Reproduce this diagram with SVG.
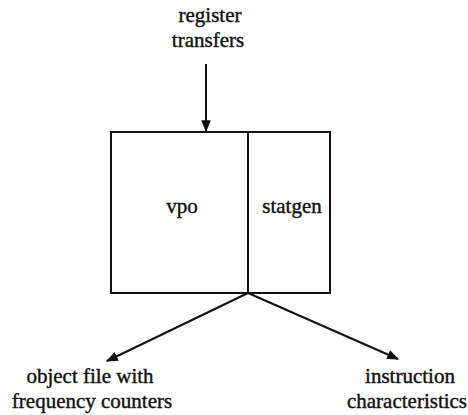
<svg xmlns="http://www.w3.org/2000/svg" width="468" height="415" viewBox="0 0 468 415">
  <style>
    .lbl { font-family: 'Liberation Serif', 'DejaVu Serif', 'Times New Roman', serif; font-size: 21px; fill: #111; text-anchor: middle; stroke: #111; stroke-width: 0.4; }
    .box { fill: none; stroke: #111; stroke-width: 2; }
    .edge { fill: none; stroke: #111; stroke-width: 2; }
  </style>
  <defs>
    <marker id="arrow" viewBox="0 0 10 10" refX="9" refY="5" markerWidth="6" markerHeight="6" markerUnits="strokeWidth" orient="auto">
      <path d="M0,1 L10,5 L0,9 Z" fill="#111"/>
    </marker>
  </defs>

  <rect width="468" height="415" fill="#fff"/>

  <!-- input label -->
  <g id="register-transfers">
    <text class="lbl" x="210" y="22">register</text>
    <text class="lbl" x="208" y="47">transfers</text>
  </g>

  <!-- compiler block split into two parts -->
  <g id="vpo">
    <rect class="box" x="111" y="132" width="137" height="161"/>
    <text class="lbl" x="182" y="213">vpo</text>
  </g>
  <g id="statgen">
    <rect class="box" x="248" y="132" width="82" height="161"/>
    <text class="lbl" x="292" y="213">statgen</text>
  </g>

  <!-- outputs -->
  <g id="object-file">
    <text class="lbl" x="90" y="383">object file with</text>
    <text class="lbl" x="92" y="408">frequency counters</text>
  </g>
  <g id="instruction-characteristics">
    <text class="lbl" x="410" y="383">instruction</text>
    <text class="lbl" x="407" y="408">characteristics</text>
  </g>

  <g id="connectors">
    <line class="edge" x1="206" y1="64" x2="206" y2="131" marker-end="url(#arrow)"/>
    <line class="edge" x1="248" y1="293" x2="107" y2="361" marker-end="url(#arrow)"/>
    <line class="edge" x1="248" y1="293" x2="398" y2="359" marker-end="url(#arrow)"/>
  </g>
</svg>
